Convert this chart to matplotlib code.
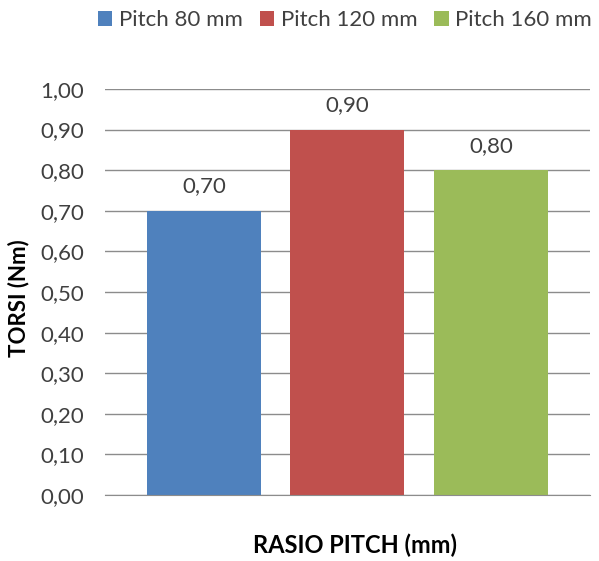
import matplotlib.pyplot as plt
import numpy as np

plt.rcParams['font.family'] = ['Lato', 'DejaVu Sans']

labels = ['Pitch 80 mm', 'Pitch 120 mm', 'Pitch 160 mm']
torsi = [0.70, 0.90, 0.80]
colors = ['#4f81bd', '#c0504d', '#9bbb59']
yticks = np.arange(0, 1.01, 0.1)

fig = plt.figure(figsize=(5.99, 5.61), dpi=100)
ax = fig.add_axes([0.175, 0.1176, 0.81, 0.7238])

x = np.arange(len(torsi))
for i in range(len(torsi)):
    ax.bar(x[i], torsi[i], width=0.794, color=colors[i], label=labels[i], zorder=2)
    ax.text(x[i], torsi[i] + 0.035, f'{torsi[i]:.2f}'.replace('.', ','),
            ha='center', va='bottom', fontsize=16, color='#404040')

ax.set_xlim(-0.69, 2.69)
ax.set_ylim(0, 1.0)
ax.set_yticks(yticks)
ax.set_yticklabels([f'{v:.2f}'.replace('.', ',') for v in yticks], fontsize=16, color='#404040')
ax.set_xticks([])
ax.yaxis.grid(True, color='#8c8c8c', linewidth=1, zorder=0)
ax.tick_params(axis='y', length=0, pad=15)
for s in ['top', 'right', 'left']:
    ax.spines[s].set_visible(False)
ax.spines['bottom'].set_color('#8c8c8c')

ax.set_ylabel('TORSI (Nm)', fontsize=16, fontweight='bold')
ax.yaxis.set_label_coords(-0.155, 0.485)
fig.text(355 / 599, 1 - 545 / 561, 'RASIO PITCH (mm)', fontsize=17, fontweight='bold',
         ha='center', va='center')

fig.legend(loc='center', bbox_to_anchor=(345 / 599, 1 - 20 / 561), ncol=3, frameon=False,
           fontsize=16, handlelength=0.65, handleheight=0.65, handletextpad=0.3,
           columnspacing=0.75, labelcolor='#404040')

fig.savefig('out.png', dpi=100)
